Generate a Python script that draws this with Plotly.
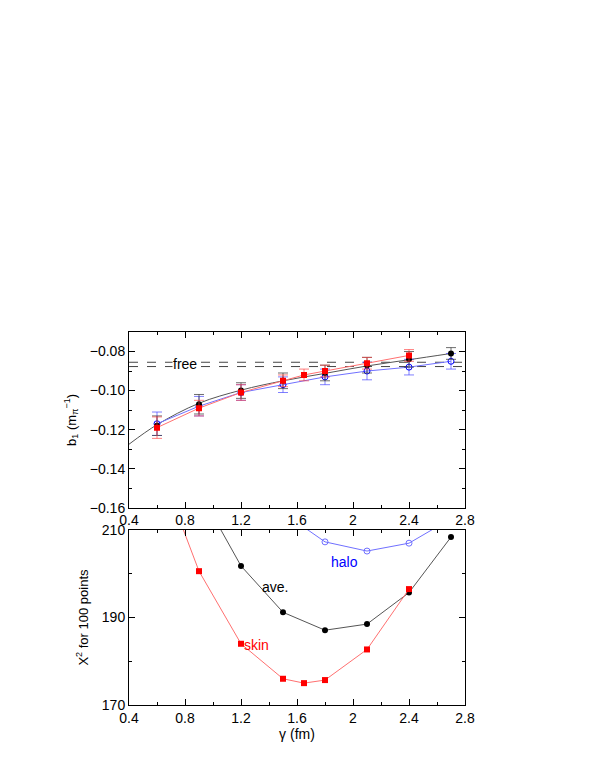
import plotly.graph_objects as go

# ---------------- data ----------------
# top panel: b1 (m_pi^-1) vs gamma (fm)
ave_x = [0.6, 0.9, 1.2, 1.5, 1.8, 2.1, 2.4, 2.7]
ave_b1 = [-0.118, -0.107, -0.100, -0.095, -0.091, -0.087, -0.084, -0.081]
ave_b1_err = [0.005, 0.005, 0.004, 0.004, 0.004, 0.004, 0.004, 0.003]
ave_fit_x = [0.4, 0.6, 0.9, 1.2, 1.5, 1.8, 2.1, 2.4, 2.7]
ave_fit_y = [-0.1275, -0.1175, -0.1065, -0.0998, -0.0950, -0.0912, -0.0874, -0.0842, -0.0810]

skin_x = [0.6, 0.9, 1.2, 1.5, 1.65, 1.8, 2.1, 2.4]
skin_b1 = [-0.119, -0.109, -0.101, -0.095, -0.092, -0.090, -0.086, -0.082]
skin_b1_err = [0.0055, 0.004, 0.004, 0.003, 0.003, 0.003, 0.003, 0.003]

halo_x = [0.6, 0.9, 1.2, 1.5, 1.8, 2.1, 2.4, 2.7]
halo_b1 = [-0.117, -0.108, -0.101, -0.097, -0.093, -0.090, -0.088, -0.085]
halo_b1_err = [0.006, 0.005, 0.004, 0.004, 0.004, 0.0045, 0.004, 0.004]

free_levels = [-0.0855, -0.0877]
free_x = [0.4, 2.8]

# bottom panel: chi^2 for 100 points vs gamma (fm)
ave_chi_x = [0.9, 1.2, 1.5, 1.8, 2.1, 2.4, 2.7]
ave_chi = [219.0, 201.8, 191.2, 187.1, 188.5, 195.7, 208.4]

skin_chi_x = [0.6, 0.9, 1.2, 1.5, 1.65, 1.8, 2.1, 2.4]
skin_chi = [226.0, 200.6, 184.0, 176.0, 175.0, 175.7, 182.7, 196.5]

halo_chi_x = [1.5, 1.8, 2.1, 2.4, 2.7]
halo_chi = [214.0, 207.3, 205.2, 207.0, 212.6]

x_ticks = [0.4, 0.8, 1.2, 1.6, 2.0, 2.4, 2.8]
x_tick_labels = ["0.4", "0.8", "1.2", "1.6", "2", "2.4", "2.8"]
top_y_ticks = [-0.16, -0.14, -0.12, -0.10, -0.08]
top_y_labels = ["\u22120.16", "\u22120.14", "\u22120.12", "\u22120.10", "\u22120.08"]
bot_y_ticks = [170, 190, 210]

# ---------------- style ----------------
BLACK = "#000000"
BLACK_LINE = "#555555"
BLACK_ERR = "rgba(60,60,60,0.75)"
RED = "#ff0000"
RED_LINE = "#ff7070"
RED_ERR = "rgba(255,60,60,0.65)"
BLUE = "#0000ff"
BLUE_LINE = "#7070ff"
BLUE_ERR = "rgba(60,60,255,0.65)"
FONT = "Liberation Sans, Arial, Helvetica, sans-serif"

fig = go.Figure()

# top panel
for lv in free_levels:
    fig.add_trace(go.Scatter(x=free_x, y=[lv, lv], mode="lines",
                             line=dict(color="#444444", width=1, dash="dash"),
                             xaxis="x", yaxis="y", showlegend=False, hoverinfo="skip"))

fig.add_trace(go.Scatter(x=ave_fit_x, y=ave_fit_y, mode="lines",
                         line=dict(color=BLACK_LINE, width=1, shape="spline"),
                         xaxis="x", yaxis="y", showlegend=False))
fig.add_trace(go.Scatter(x=halo_x, y=halo_b1, mode="lines+markers",
                         line=dict(color=BLUE_LINE, width=1),
                         marker=dict(symbol="circle-open", size=6, color=BLUE, line=dict(width=1)),
                         error_y=dict(type="data", array=halo_b1_err, color=BLUE_ERR, thickness=1, width=5),
                         xaxis="x", yaxis="y", showlegend=False))
fig.add_trace(go.Scatter(x=ave_x, y=ave_b1, mode="markers",
                         marker=dict(symbol="circle", size=6, color=BLACK),
                         error_y=dict(type="data", array=ave_b1_err, color=BLACK_ERR, thickness=1, width=5),
                         xaxis="x", yaxis="y", showlegend=False))
fig.add_trace(go.Scatter(x=skin_x, y=skin_b1, mode="lines+markers",
                         line=dict(color=RED_LINE, width=1),
                         marker=dict(symbol="square", size=6, color=RED),
                         error_y=dict(type="data", array=skin_b1_err, color=RED_ERR, thickness=1, width=5),
                         xaxis="x", yaxis="y", showlegend=False))

# bottom panel
fig.add_trace(go.Scatter(x=halo_chi_x, y=halo_chi, mode="lines+markers",
                         line=dict(color=BLUE_LINE, width=1),
                         marker=dict(symbol="circle-open", size=6, color=BLUE_LINE, line=dict(width=1)),
                         xaxis="x2", yaxis="y2", showlegend=False))
fig.add_trace(go.Scatter(x=ave_chi_x, y=ave_chi, mode="lines+markers",
                         line=dict(color=BLACK_LINE, width=1),
                         marker=dict(symbol="circle", size=6, color=BLACK),
                         xaxis="x2", yaxis="y2", showlegend=False))
fig.add_trace(go.Scatter(x=skin_chi_x, y=skin_chi, mode="lines+markers",
                         line=dict(color=RED_LINE, width=1),
                         marker=dict(symbol="square", size=6, color=RED),
                         xaxis="x2", yaxis="y2", showlegend=False))

axis_common = dict(showline=True, linecolor="#000000", linewidth=1, mirror="ticks",
                   ticks="inside", ticklen=6, tickcolor="#000000", showgrid=False,
                   zeroline=False, tickfont=dict(family=FONT, size=14, color="#000000"))

fig.update_layout(
    width=579, height=754,
    paper_bgcolor="white", plot_bgcolor="white",
    margin=dict(l=121, r=122, t=324, b=57),
    font=dict(family=FONT, size=14, color="#000000"),
    xaxis=dict(domain=[0, 1], anchor="y", range=[0.4, 2.8],
               tickvals=x_ticks, ticktext=x_tick_labels,
               minor=dict(dtick=0.2, tick0=0.4, ticks="inside", ticklen=3, tickcolor="#000000"),
               **axis_common),
    yaxis=dict(domain=[0.529, 1], anchor="x", range=[-0.16, -0.07],
               tickvals=top_y_ticks, ticktext=top_y_labels,
               minor=dict(dtick=0.01, tick0=-0.16, ticks="inside", ticklen=3, tickcolor="#000000"),
               title=dict(text="b<sub>1</sub> (m<sub>\u03c0</sub><sup>\u22121</sup>)",
                          font=dict(family=FONT, size=13), standoff=10),
               **axis_common),
    xaxis2=dict(domain=[0, 1], anchor="y2", range=[0.4, 2.8],
                tickvals=x_ticks, ticktext=x_tick_labels,
                minor=dict(dtick=0.2, tick0=0.4, ticks="inside", ticklen=3, tickcolor="#000000"),
                title=dict(text="\u03b3 (fm)", font=dict(family=FONT, size=14), standoff=4),
                **axis_common),
    yaxis2=dict(domain=[0, 0.469], anchor="x2", range=[170, 210],
                tickvals=bot_y_ticks,
                minor=dict(dtick=10, tick0=170, ticks="inside", ticklen=3, tickcolor="#000000"),
                title=dict(text="X<sup>2</sup> for 100 points",
                           font=dict(family=FONT, size=13), standoff=10),
                **axis_common),
    annotations=[
        dict(x=0.80, y=-0.0864, xref="x", yref="y", text="free", showarrow=False,
             font=dict(family=FONT, size=14, color="#000000"), bgcolor="white", borderpad=0),
        dict(x=1.94, y=202.8, xref="x2", yref="y2", text="halo", showarrow=False,
             font=dict(family=FONT, size=14, color=BLUE)),
        dict(x=1.44, y=196.9, xref="x2", yref="y2", text="ave.", showarrow=False,
             font=dict(family=FONT, size=14, color=BLACK)),
        dict(x=1.31, y=183.7, xref="x2", yref="y2", text="skin", showarrow=False,
             font=dict(family=FONT, size=14, color=RED)),
    ],
)

fig.write_html("out.html")
